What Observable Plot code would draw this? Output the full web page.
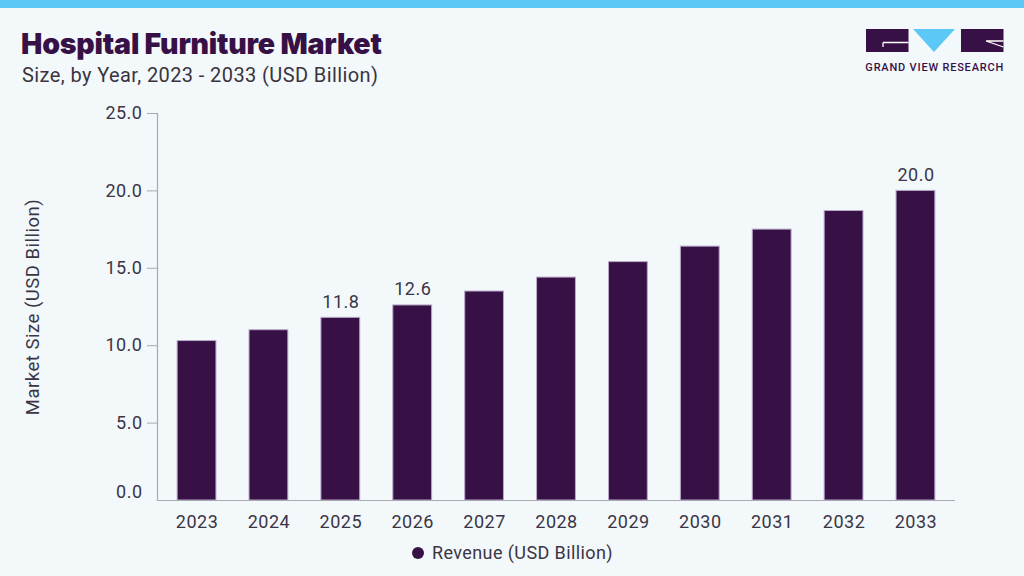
<!DOCTYPE html>
<html>
<head>
<meta charset="utf-8">
<script src="https://cdn.jsdelivr.net/npm/d3@7"></script>
<script src="https://cdn.jsdelivr.net/npm/@observablehq/plot@0.6"></script>
<style>
  html, body { margin: 0; padding: 0; background: #f3f8fb; }
  body { width: 1024px; height: 576px; position: relative; overflow: hidden; font-family: Roboto, "Noto Sans", sans-serif; }
  #topbar { position: absolute; left: 0; top: 0; width: 1024px; height: 8px; background: #5bc8f5; }
  #header { position: relative; height: 100px; }
  #title { position: absolute; left: 21px; top: 26px; font-family: Inter, sans-serif; font-weight: 900; font-size: 28.5px; letter-spacing: -0.2px; color: #371146; white-space: nowrap; }
  #subtitle { position: absolute; left: 22px; top: 63px; font-family: Roboto, sans-serif; font-size: 20px; letter-spacing: 0.4px; color: #3a3440; white-space: nowrap; }
  #logo { position: absolute; left: 860px; top: 24px; }
  #chart { position: relative; height: 440px; }
  #legend { position: relative; height: 36px; }
  #legend .dot { position: absolute; left: 412px; top: 7px; width: 12px; height: 12px; border-radius: 50%; background: #371146; }
  #legend .lab { position: absolute; left: 432px; top: 2px; font-size: 18px; letter-spacing: 0.4px; color: #3a3545; white-space: nowrap; }
</style>
</head>
<body>
<div id="topbar"></div>
<div id="header">
  <div id="title">Hospital Furniture Market</div>
  <div id="subtitle">Size, by Year, 2023 - 2033 (USD Billion)</div>
  <svg id="logo" width="150" height="55" viewBox="0 0 150 55">
    <rect x="6" y="5" width="42.5" height="23" fill="#371146"/>
    <path d="M23 18.5 H48.5 M23 18.5 V23" stroke="#ffffff" stroke-width="1.3" fill="none"/>
    <polygon points="53,5 95,5 74,28" fill="#5bc8f5"/>
    <rect x="101" y="5" width="42.5" height="23" fill="#371146"/>
    <path d="M126 17 L143.5 23 M126 17 H143.5" stroke="#ffffff" stroke-width="1.3" fill="none"/>
    <text x="74.7" y="47" text-anchor="middle" font-family="Roboto, sans-serif" font-size="11" font-weight="500" letter-spacing="0.8" fill="#371146">GRAND VIEW RESEARCH</text>
  </svg>
</div>
<div id="chart"></div>
<div id="legend"><span class="dot"></span><span class="lab">Revenue (USD Billion)</span></div>
<script>
const years = ["2023","2024","2025","2026","2027","2028","2029","2030","2031","2032","2033"];
const revenue = [10.3, 11.0, 11.8, 12.6, 13.5, 14.4, 15.4, 16.4, 17.5, 18.7, 20.0];
const labeledYears = ["2025","2026","2033"];
const yTicks = [5, 10, 15, 20, 25];
const yLabel = "Market Size (USD Billion)";

const data = years.map((y, i) => ({year: y, value: revenue[i]}));
const labeled = data.filter(d => labeledYears.includes(d.year));
const fmt = d3.format(".1f");
const textColor = "#3a3545";
const axisColor = "#a9a9b1";
const fontStyle = {fontSize: 18, letterSpacing: "0.5px"};

const chart = Plot.plot({
  width: 1024,
  height: 440,
  marginLeft: 157,
  marginRight: 69,
  marginTop: 13,
  marginBottom: 40,
  style: {background: "transparent", fontFamily: "Roboto, 'Noto Sans', sans-serif", color: textColor, letterSpacing: "0.5px"},
  x: {domain: years, paddingInner: 0.46, paddingOuter: 0.28, round: false, label: null},
  y: {domain: [0, 25], label: null},
  marks: [
    Plot.barY(data, {x: "year", y: "value", fill: "#371146", stroke: "#b9a9c9", strokeWidth: 1}),
    Plot.ruleY([0], {stroke: axisColor, strokeWidth: 1.2}),
    Plot.frame({anchor: "left", stroke: axisColor, strokeWidth: 1.2}),
    Plot.axisY({ticks: yTicks, tickSize: 10, tickPadding: 5, tickFormat: fmt, fontSize: 18, stroke: axisColor, fill: textColor, label: null}),
    Plot.axisY({ticks: [0], tickSize: 0, tickPadding: 15, tickFormat: fmt, fontSize: 18, fill: textColor, dy: -8, label: null}),
    Plot.axisX({tickSize: 0, tickPadding: 15, fontSize: 18, fill: textColor, label: null}),
    Plot.text(labeled, {x: "year", y: "value", text: d => fmt(d.value), dy: -16, fontSize: 18, fill: textColor}),
    Plot.text([yLabel], {frameAnchor: "left", textAnchor: "middle", dx: -124, rotate: -90, text: d => d, fontSize: 18.5, fill: textColor})
  ]
});
document.getElementById("chart").appendChild(chart);
</script>
</body>
</html>
